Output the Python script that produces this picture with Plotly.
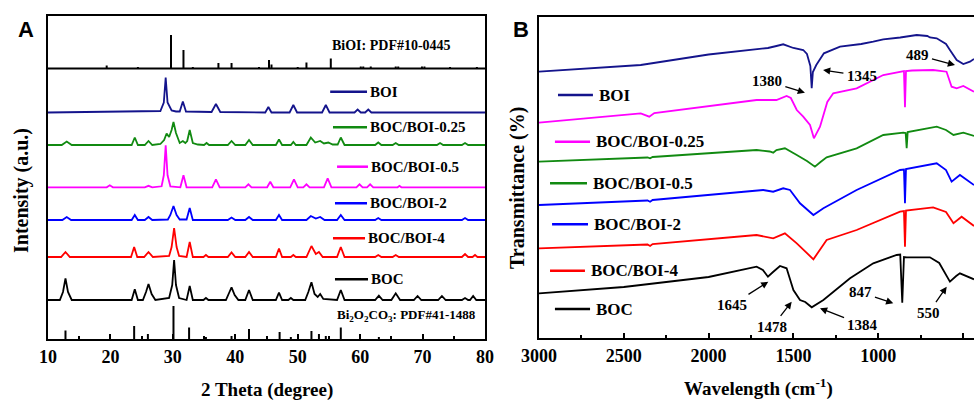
import plotly.graph_objects as go

# ---------------- Panel A: XRD (2theta, relative intensity above each baseline) ----------------
xrd_names = ["BOI", "BOC/BOI-0.25", "BOC/BOI-0.5", "BOC/BOI-2", "BOC/BOI-4", "BOC"]
xrd_colors = ["#14148c", "#118a11", "#ff00ff", "#0000ff", "#ff0000", "#000000"]
xrd_baselines = [226.5, 194, 151.7, 119, 82, 39]

xrd_boi = [[10,0],[20,0.5],[26,1],[28.0,1.5],[28.55,10],[28.85,35],[29.15,10],[29.8,2],[30.5,1],[31.1,1],[31.6,11],[32.1,1],
           [36.2,0.5],[36.9,8.5],[37.6,0.5],[44.8,0],[45.3,5.5],[45.8,0],[48.7,0],[49.3,7.5],[49.9,0],[53.9,0],[54.5,7.5],
           [55.1,0],[59.1,0],[59.6,3],[60.1,0],[60.8,0],[61.3,3],[61.8,0],[80,0]]
xrd_025 = [[10,0],[12.2,0],[13.0,3.5],[13.8,0],[23.4,0],[23.9,7.5],[24.4,0],[25.5,0],[26.1,4],[26.7,0],[28.0,1],[28.6,5],
           [29.0,11.5],[29.4,8],[29.8,15],[30.1,23],[30.5,12],[31.1,2],[31.6,4],[32.0,2],[32.3,4],[32.7,15],[33.2,2],
           [34,0.5],[35.0,0],[35.4,2],[35.8,0],[38.8,0],[39.4,4],[40.0,0],[41.6,0],[42.2,5],[42.8,0],[46.5,0],[47.0,5.5],
           [47.5,0],[48.9,0],[49.3,3],[49.7,0],[51.4,0],[52.1,7.5],[52.8,2.5],[53.6,4],[54.2,1.5],[54.9,2.5],[55.6,0.5],
           [56.4,0.5],[56.9,7.5],[57.5,0],[62.4,0],[62.9,2.5],[63.4,0],[65.2,0],[65.7,2],[66.2,0],[72.3,0],[72.8,2],
           [73.3,0],[76.3,0],[76.8,2],[77.3,0],[80,0]]
xrd_05 = [[10,0],[19.4,0],[19.9,2],[20.4,0],[25.5,0],[26.1,1.5],[26.7,0],[28.2,1],[28.55,12],[28.85,42],[29.15,12],
          [29.6,1],[31.2,0],[31.7,12],[32.2,0],[36.3,0],[36.9,8],[37.5,0],[41.6,0],[42.1,3],[42.6,0],[45.1,0],[45.6,5.5],
          [46.1,0],[48.8,0],[49.4,8],[50.0,0],[50.9,0],[51.4,3],[51.9,0],[54.2,0],[54.8,9],[55.4,0],[59.4,0],[59.9,3],
          [60.4,0],[61.1,0],[61.6,3],[62.1,0],[66,0],[66.3,1.5],[66.6,0],[80,0]]
xrd_2 = [[10,0],[12.3,0],[13.0,3],[13.7,0],[23.4,0],[23.9,5],[24.4,0],[25.5,0],[26.1,3],[26.7,0],[29.2,0.5],[29.6,5],
         [30.1,14],[30.6,5],[31.1,0.5],[32.2,0.5],[32.7,12],[33.2,0],[38.8,0],[39.4,2.5],[40.0,0],[41.6,0],[42.2,3],
         [42.8,0],[46.5,0],[47.0,5],[47.5,0],[51.4,0],[52.1,4],[52.9,1.5],[53.6,3],[54.3,0],[56.3,0],[56.9,5],[57.5,0],
         [62.4,0],[62.9,2],[63.4,0],[76.3,0],[76.8,2],[77.3,0],[80,0]]
xrd_4 = [[10,0],[12.1,0],[12.8,5],[13.5,0],[23.3,0],[23.8,10],[24.3,0],[25.4,0],[26.1,5],[26.8,0],[29.4,1],[29.8,10],
         [30.2,29],[30.6,10],[31.0,1],[32.2,0],[32.7,15],[33.2,0],[34.9,0],[35.3,2],[35.7,0],[38.8,0],[39.4,4.5],
         [40.0,0],[41.6,0],[42.2,5],[42.8,0],[46.5,0],[47.0,8.5],[47.5,0],[48.9,0],[49.3,2],[49.7,0],[51.4,0],[52.2,11],
         [52.9,3],[53.4,5],[54.0,0],[56.3,0],[56.9,10],[57.5,0],[62.4,0],[62.9,2],[63.4,0],[65.2,0],[65.7,2],[66.2,0],
         [76.3,0],[76.8,3],[77.3,0],[78.0,0],[78.4,2],[78.8,0],[80,0]]
xrd_boc = [[10,0],[11.9,0],[12.4,8],[12.8,21.7],[13.2,8],[13.8,0],[23.4,0],[23.9,10.7],[24.4,0],[25.2,0],[25.7,8],
           [26.1,16],[26.6,6],[27.2,0],[29.4,2],[29.9,15],[30.2,40],[30.5,15],[31.0,2],[32.2,0],[32.7,14],[33.2,0],
           [34.9,0],[35.3,2],[35.7,0],[38.5,0],[39.0,7],[39.4,12.7],[39.9,5],[40.5,0],[41.6,0],[42.2,10],[42.8,0],
           [46.5,0],[47.0,7.3],[47.5,0],[48.5,0],[48.9,2],[49.3,0],[51.2,0],[51.7,8],[52.2,17.7],[52.7,6],[53.2,3],
           [53.6,6],[54.1,1],[56.3,0],[56.9,10],[57.5,0],[62.4,0],[63.0,4.3],[63.6,0],[65.0,0],[65.7,6.7],[66.4,0],
           [68.6,0],[69.2,4],[69.8,0],[72.5,0],[73.1,4],[73.7,0],[76.3,0],[76.8,2],[77.3,0],[77.6,0],[78.1,4],[78.6,0],[80,0]]
xrd_series = [xrd_boi, xrd_025, xrd_05, xrd_2, xrd_4, xrd_boc]

# reference stick patterns
bioi_ref_label = "BiOI: PDF#10-0445"
bioi_ref_base = 270.5
bioi_ref_pos = [19.4, 24.4, 29.7, 31.7, 33.2, 37.3, 39.4, 43.8, 45.4, 45.8, 50.0, 51.4, 55.3, 60.1, 60.5, 61.7,
                65.7, 66.1, 69.9, 70.3, 74.4, 78.7]
bioi_ref_h = [3, 1.5, 33.5, 18.5, 1.5, 5.5, 5.5, 1.5, 8.5, 4, 1.5, 6, 10, 2, 2, 2, 2, 2, 2, 2, 1.5, 1.5]
boc_ref_label = "Bi<sub>2</sub>O<sub>2</sub>CO<sub>3</sub>: PDF#41-1488"
boc_ref_base = 0
boc_ref_pos = [12.8, 23.8, 26.0, 30.1, 32.6, 35.3, 39.4, 42.2, 47.1, 48.9, 52.2, 53.4, 54.5, 56.9, 63.0]
boc_ref_h = [8.5, 13, 5, 33, 11.5, 2, 3, 10, 7, 2, 8, 5, 3, 11.5, 2]

xrd_ticks = [10, 20, 30, 40, 50, 60, 70, 80]

# ---------------- Panel B: FTIR (wavenumber, transmittance a.u.) ----------------
ftir_names = ["BOI", "BOC/BOI-0.25", "BOC/BOI-0.5", "BOC/BOI-2", "BOC/BOI-4", "BOC"]
ftir_colors = ["#14148c", "#ff00ff", "#118a11", "#0000ff", "#ff0000", "#000000"]
ftir_boi = [[3000,266.3],[2400,273],[2000,283.5],[1856,286.3],[1750,288],[1650,290],[1600,292],[1560,293.7],[1500,290],
            [1442,288],[1420,284],[1400,272],[1392,249.7],[1385,266],[1365,273],[1345,278],[1320,284.7],[1225,291.3],
            [1100,294],[1029,296.3],[970,298.7],[870,300.5],[773,303],[710,302],[695,300.5],[655,299.7],[600,294],
            [577,288],[537,278],[498,274],[459,276.3],[435,279]]
ftir_025 = [[3000,215.3],[2400,224.7],[2350,221.3],[2320,225],[1717,238],[1600,238],[1540,242],[1515,240],[1480,228],
            [1442,221.3],[1402,213],[1379,199.7],[1343,211.3],[1300,236],[1265,244.7],[1127,249.7],[970,263],
            [871,266.3],[848,267],[842,230.7],[836,267],[800,267.5],[676,268],[597,266.3],[567,251.3],[537,249.7],
            [498,252],[435,246.3]]
ftir_05 = [[3000,176.3],[2360,180.5],[2345,179.7],[2330,181],[1717,188],[1640,186.5],[1619,185.3],[1600,188],
           [1550,189.7],[1520,187],[1480,183],[1420,177],[1373,171.3],[1340,176],[1304,180.7],[1127,189.7],[970,203],
           [852,205.3],[838,205],[832,189.7],[826,206],[655,211.3],[600,208],[556,203],[498,205.3],[435,202]]
ftir_2 = [[3000,133],[2360,137.5],[2345,136.3],[2330,138],[1678,148],[1619,146.3],[1560,149.7],[1520,148],[1461,134.7],
          [1382,123],[1323,129.7],[1127,148],[871,168],[848,168.5],[842,134.7],[836,169],[655,174.7],[600,168],
          [567,156.3],[518,163],[435,153]]
ftir_4 = [[3000,89.7],[2360,93.5],[2345,92],[2330,94],[1717,103],[1619,99.7],[1550,104.7],[1480,94.7],[1382,78.7],
          [1304,98],[1127,108],[871,126.3],[848,127],[842,91.3],[836,127.5],[676,130.7],[600,126],[556,114.7],
          [508,121.3],[435,112]]
ftir_boc = [[3000,44.7],[2500,51],[2000,61],[1775,68.7],[1717,71.3],[1680,68],[1650,61.3],[1620,66],[1579,72],
            [1540,69.7],[1500,48],[1461,38],[1430,36],[1392,30.7],[1323,38],[1166,59.7],[1029,74.7],[891,83],
            [870,83.5],[858,35.3],[848,81],[832,80.7],[695,80.7],[640,75],[577,56.3],[540,62],[518,64.7],[435,58.7]]
ftir_series = [ftir_boi, ftir_025, ftir_05, ftir_2, ftir_4, ftir_boc]

# band labels: text, text position, arrow head (wavenumber, value)
band_labels = ["489", "1345", "1380", "1645", "1478", "1384", "847", "550"]
band_text_pos = [[771, 283], [1096, 262], [1656, 257], [1862, 33], [1626, 11], [1090, 13], [1107, 46], [705, 24.7]]
band_arrow_head = [[547, 273], [1325, 268], [1432, 245.3], [1648, 56.3], [1510, 36.3], [1343, 29.7], [911, 34.7], [596, 51.3]]

ftir_ticks = [3000, 2500, 2000, 1500, 1000, 500]

# legend label positions (data coords, placement only)
xrd_leg = [[55.2, 61.1, 247.3], [55.65, 61.1, 211.7], [56.3, 61.26, 172.3], [55.97, 61.1, 135.7], [55.65, 60.78, 100.7], [55.97, 61.26, 59.7]]
ftir_leg = [[2888, 2682, 243], [2906, 2699, 196.3], [2935, 2717, 154.7], [2923, 2711, 113.7], [2935, 2729, 67.3], [2906, 2699, 29]]

SERIF = "Liberation Serif"
fig = go.Figure()

for name, col, base, pts in zip(xrd_names, xrd_colors, xrd_baselines, xrd_series):
    fig.add_trace(go.Scatter(x=[p[0] for p in pts], y=[base + p[1] for p in pts], mode="lines",
                             line=dict(color=col, width=1.8), name=name, xaxis="x", yaxis="y", showlegend=False))

def sticks(pos, h, base):
    xs, ys = [], []
    for p, hh in zip(pos, h):
        xs += [p, p, None]
        ys += [base, base + hh, None]
    return xs, ys

sx, sy = sticks(bioi_ref_pos, bioi_ref_h, bioi_ref_base)
fig.add_trace(go.Scatter(x=sx, y=sy, mode="lines", line=dict(color="black", width=2), xaxis="x", yaxis="y", showlegend=False))
sx, sy = sticks(boc_ref_pos, boc_ref_h, boc_ref_base)
fig.add_trace(go.Scatter(x=sx, y=sy, mode="lines", line=dict(color="black", width=2), xaxis="x", yaxis="y", showlegend=False))

for name, col, pts in zip(ftir_names, ftir_colors, ftir_series):
    fig.add_trace(go.Scatter(x=[p[0] for p in pts], y=[p[1] for p in pts], mode="lines",
                             line=dict(color=col, width=1.8), name=name, xaxis="x2", yaxis="y2", showlegend=False))

shapes = []
annotations = []
shapes.append(dict(type="line", xref="x domain", yref="y", x0=0, x1=1, y0=bioi_ref_base, y1=bioi_ref_base,
                   line=dict(color="black", width=2)))
for name, col, (x0, x1, yv) in zip(xrd_names, xrd_colors, xrd_leg):
    shapes.append(dict(type="line", xref="x", yref="y", x0=x0, x1=x1, y0=yv, y1=yv, line=dict(color=col, width=2.5)))
    annotations.append(dict(x=x1 + 0.15, y=yv, xref="x", yref="y", text=name, showarrow=False, xanchor="left",
                            yanchor="middle", font=dict(family=SERIF, size=15, color="black", weight="bold")))
annotations.append(dict(x=55.2, y=294, xref="x", yref="y", text=bioi_ref_label, showarrow=False, xanchor="left",
                        yanchor="middle", font=dict(family=SERIF, size=14, color="black", weight="bold")))
annotations.append(dict(x=55.9, y=24, xref="x", yref="y", text=boc_ref_label, showarrow=False, xanchor="left",
                        yanchor="middle", font=dict(family=SERIF, size=13, color="black", weight="bold")))
for name, col, (x0, x1, yv) in zip(ftir_names, ftir_colors, ftir_leg):
    shapes.append(dict(type="line", xref="x2", yref="y2", x0=x0, x1=x1, y0=yv, y1=yv, line=dict(color=col, width=2.5)))
    annotations.append(dict(x=x1 - 25, y=yv, xref="x2", yref="y2", text=name, showarrow=False, xanchor="left",
                            yanchor="middle", font=dict(family=SERIF, size=17, color="black", weight="bold")))
for t, tp, head in zip(band_labels, band_text_pos, band_arrow_head):
    annotations.append(dict(x=head[0], y=head[1], ax=tp[0], ay=tp[1], xref="x2", yref="y2", axref="x2", ayref="y2",
                            text=t, showarrow=True, arrowhead=2, arrowsize=1.1, arrowwidth=1.3, arrowcolor="black",
                            standoff=0, startstandoff=2,
                            font=dict(family=SERIF, size=15, color="black", weight="bold")))
annotations.append(dict(x=26 / 974, y=1 - 30 / 400, xref="paper", yref="paper", text="A", showarrow=False,
                        xanchor="center", yanchor="middle",
                        font=dict(family="Liberation Sans", size=22, color="black", weight="bold")))
annotations.append(dict(x=521 / 974, y=1 - 30 / 400, xref="paper", yref="paper", text="B", showarrow=False,
                        xanchor="center", yanchor="middle",
                        font=dict(family="Liberation Sans", size=22, color="black", weight="bold")))
annotations.append(dict(x=267 / 974, y=1 - 390 / 400, xref="paper", yref="paper", text="2 Theta (degree)", showarrow=False,
                        xanchor="center", yanchor="middle", font=dict(family=SERIF, size=19, color="black", weight="bold")))
annotations.append(dict(x=758 / 974, y=1 - 387 / 400, xref="paper", yref="paper", text="Wavelength (cm<sup>-1</sup>)",
                        showarrow=False, xanchor="center", yanchor="middle",
                        font=dict(family=SERIF, size=19, color="black", weight="bold")))
annotations.append(dict(x=21 / 974, y=1 - 191 / 400, xref="paper", yref="paper", text="Intensity (a.u.)", showarrow=False,
                        xanchor="center", yanchor="middle", textangle=-90,
                        font=dict(family=SERIF, size=20, color="black", weight="bold")))
annotations.append(dict(x=517 / 974, y=1 - 188 / 400, xref="paper", yref="paper", text="Transmittance (%)", showarrow=False,
                        xanchor="center", yanchor="middle", textangle=-90,
                        font=dict(family=SERIF, size=20, color="black", weight="bold")))

axis_common = dict(showgrid=False, zeroline=False, linecolor="black", linewidth=2, automargin=False)
fig.update_layout(
    width=974, height=400, autosize=False, margin=dict(l=0, r=0, t=0, b=0, pad=0, autoexpand=False),
    paper_bgcolor="white", plot_bgcolor="white",
    shapes=shapes, annotations=annotations,
    xaxis=dict(domain=[48 / 974, 485 / 974], range=[10, 80], tickvals=xrd_ticks, ticks="inside", ticklen=5,
               tickwidth=1.5, tickcolor="black", showline=True, mirror=True,
               minor=dict(dtick=5, tick0=10, ticks="inside", ticklen=3, tickcolor="black", tickwidth=1.5),
               tickfont=dict(family=SERIF, size=18, color="black", weight="bold"), anchor="y", **axis_common),
    yaxis=dict(domain=[61 / 400, 384 / 400], range=[0, 323], showticklabels=False, ticks="", showline=True, mirror=True,
               anchor="x", **axis_common),
    xaxis2=dict(domain=[539 / 974, 1.0], range=[3000, 435], tickvals=ftir_ticks, ticks="inside", ticklen=5,
                tickwidth=1.5, tickcolor="black", showline=True, mirror=True,
                minor=dict(dtick=250, tick0=0, ticks="inside", ticklen=3, tickcolor="black", tickwidth=1.5),
                tickfont=dict(family=SERIF, size=18, color="black", weight="bold"), anchor="y2", **axis_common),
    yaxis2=dict(domain=[62 / 400, 383 / 400], range=[0, 321], showticklabels=False, ticks="", showline=True,
                mirror=False, anchor="x2", **axis_common),
)

fig.write_html("out.html", config={"responsive": False, "displayModeBar": False},
               post_script="document.body.style.margin='0';document.documentElement.style.overflow='hidden';document.body.style.overflow='hidden';")
